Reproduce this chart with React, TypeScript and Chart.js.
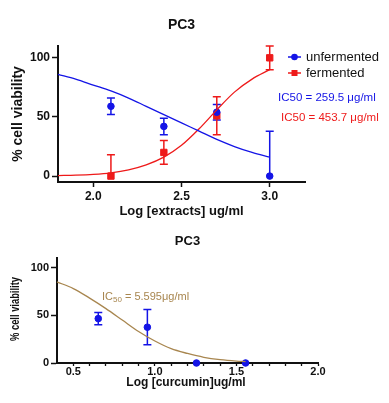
import React, { useEffect, useRef } from 'react';
import Chart from 'chart.js/auto';

const FONT = "'Liberation Sans', Arial, Helvetica, sans-serif";
const BLUE = '#1414e6';
const RED = '#ee1a1a';
const TAN = '#a8864f';

// ---------- Top chart data ----------
const topTitle = 'PC3';
const topXTitle = 'Log [extracts] ug/ml';
const topYTitle = '% cell viability';
const topXTicks = [2.0, 2.5, 3.0];
const topYTicks = [0, 50, 100];
const doseX = [2.1, 2.4, 2.7, 3.0];
const unfermentedY = [59, 42, 54, 0];
const unfermentedErrLow = [7, 7, 6.5, 0];
const unfermentedErrHigh = [7, 7, 6.5, 38];
const fermentedY = [0, 20, 51, 100];
const fermentedErrLow = [0, 10, 16, 10];
const fermentedErrHigh = [18, 10, 16, 10];
const fitX = [1.8, 1.9, 2.0, 2.1, 2.2, 2.3, 2.4, 2.5, 2.6, 2.7, 2.8, 2.9, 3.0];
const unfermentedFit = [86, 82, 77, 72, 66, 59, 52, 45, 38, 31, 25, 20, 16];
const fermentedFit = [0.4, 0.8, 1.5, 2.8, 5.3, 9.5, 16, 26, 40, 56, 71, 82, 90];
const legendLabels = ['unfermented', 'fermented'];
const ic50Labels = ['IC50 = 259.5 \u03bcg/ml', 'IC50 = 453.7 \u03bcg/ml'];

// ---------- Bottom chart data ----------
const botTitle = 'PC3';
const botXTitle = 'Log [curcumin]ug/ml';
const botYTitle = '% cell viability';
const botXTicks = [0.5, 0.6, 0.7, 0.8, 0.9, 1.0, 1.1, 1.2, 1.3, 1.4, 1.5, 1.6, 1.7, 1.8, 1.9, 2.0];
const botXLabelTicks = [0.5, 1.0, 1.5, 2.0];
const botYTicks = [0, 50, 100];
const curcuminX = [0.653, 0.954, 1.255, 1.556];
const curcuminY = [46.5, 37.5, 0, 0];
const curcuminErr = [6.5, 18.5, 0, 0];
const curcuminFitX = [0.4, 0.5, 0.6, 0.7, 0.8, 0.9, 1.0, 1.1, 1.2, 1.3, 1.4, 1.5, 1.556];
const curcuminFit = [85, 78, 68, 57, 45, 33, 23, 15, 10, 6, 3.5, 2, 1.5];
const curcuminIC50 = { pre: 'IC', sub: '50', post: ' = 5.595\u03bcg/ml' };

type Bar = { ds: number; low: number[]; high: number[]; color: string };

const errorBarPlugin = (bars: Bar[]) => ({
  id: 'errbars',
  beforeDatasetsDraw(chart: any) {
    const ctx = chart.ctx;
    const ys = chart.scales.y;
    bars.forEach((b) => {
      const meta = chart.getDatasetMeta(b.ds);
      const data = chart.data.datasets[b.ds].data as any[];
      ctx.save();
      ctx.strokeStyle = b.color;
      ctx.lineWidth = 1.5;
      meta.data.forEach((el: any, i: number) => {
        const v = data[i].y;
        const hi = b.high[i];
        const lo = b.low[i];
        if (!hi && !lo) return;
        const x = el.x;
        const yt = ys.getPixelForValue(v + hi);
        const yb = ys.getPixelForValue(v - lo);
        ctx.beginPath();
        ctx.moveTo(x, yt);
        ctx.lineTo(x, yb);
        if (hi) { ctx.moveTo(x - 4, yt); ctx.lineTo(x + 4, yt); }
        if (lo) { ctx.moveTo(x - 4, yb); ctx.lineTo(x + 4, yb); }
        ctx.stroke();
      });
      ctx.restore();
    });
  },
});

const textPlugin = (draw: (chart: any, ctx: CanvasRenderingContext2D) => void) => ({
  id: 'texts',
  afterDraw(chart: any) {
    const ctx = chart.ctx;
    ctx.save();
    draw(chart, ctx);
    ctx.restore();
  },
});

function axisTitles(ctx: CanvasRenderingContext2D, chart: any, title: string, xt: string, yt: string, o: any) {
  const a = chart.chartArea;
  const cx = (a.left + a.right) / 2;
  ctx.fillStyle = '#111';
  ctx.textAlign = 'center';
  ctx.textBaseline = 'middle';
  ctx.font = `bold ${o.titleSize}px ${FONT}`;
  ctx.fillText(title, cx, o.titleY);
  ctx.font = `bold ${o.xSize}px ${FONT}`;
  ctx.fillText(xt, o.xTitleX ?? cx, o.xTitleY);
  ctx.save();
  ctx.translate(o.yTitleX, o.yTitleY ?? (a.top + a.bottom) / 2);
  ctx.rotate(-Math.PI / 2);
  ctx.font = o.yFont;
  if (o.yLen) {
    const w = ctx.measureText(yt).width;
    ctx.scale(o.yLen / w, 1);
  }
  ctx.fillText(yt, 0, 0);
  ctx.restore();
}

const fixSize = (w?: number, h?: number) => (scale: any) => {
  if (w !== undefined) scale.width = w;
  if (h !== undefined) scale.height = h;
};

function TopChart() {
  const ref = useRef<HTMLCanvasElement>(null);
  useEffect(() => {
    const chart = new Chart(ref.current!, {
      type: 'scatter',
      data: {
        datasets: [
          {
            type: 'line',
            data: fitX.map((x, i) => ({ x, y: unfermentedFit[i] })),
            borderColor: BLUE, borderWidth: 1.3, pointRadius: 0, cubicInterpolationMode: 'monotone', fill: false, clip: false,
          },
          {
            type: 'line',
            data: fitX.map((x, i) => ({ x, y: fermentedFit[i] })),
            borderColor: RED, borderWidth: 1.3, pointRadius: 0, cubicInterpolationMode: 'monotone', fill: false, clip: false,
          },
          {
            data: doseX.map((x, i) => ({ x, y: unfermentedY[i] })),
            backgroundColor: BLUE, borderColor: BLUE, pointRadius: 3.3, pointStyle: 'circle', clip: false,
          },
          {
            data: doseX.map((x, i) => ({ x, y: fermentedY[i] })),
            backgroundColor: RED, borderColor: RED, pointRadius: 4.5, pointStyle: 'rect', clip: false,
          },
        ],
      },
      options: {
        animation: false,
        responsive: false,
        events: [],
        layout: { padding: { left: 0, right: 84, top: 46, bottom: 0 } },
        plugins: { legend: { display: false }, title: { display: false }, tooltip: { enabled: false } },
        scales: {
          x: {
            type: 'linear', min: 1.8, max: 3.2,
            afterFit: fixSize(undefined, 40),
            afterBuildTicks: (s: any) => { s.ticks = topXTicks.map((v) => ({ value: v })); },
            ticks: { callback: (v: any) => Number(v).toFixed(1), color: '#111', font: { family: FONT, size: 12, weight: 'bold' }, padding: 2, maxRotation: 0 },
            grid: { drawOnChartArea: false, drawTicks: true, tickLength: 5, tickColor: '#111', tickWidth: 1.5 },
            border: { color: '#111', width: 2 },
          },
          y: {
            type: 'linear', min: -5, max: 110,
            afterFit: fixSize(58),
            afterBuildTicks: (s: any) => { s.ticks = topYTicks.map((v) => ({ value: v })); },
            ticks: { color: '#111', font: { family: FONT, size: 12, weight: 'bold' }, padding: 2 },
            grid: { drawOnChartArea: false, drawTicks: true, tickLength: 6, tickColor: '#111', tickWidth: 1.5 },
            border: { color: '#111', width: 2 },
          },
        },
      },
      plugins: [
        errorBarPlugin([
          { ds: 2, low: unfermentedErrLow, high: unfermentedErrHigh, color: BLUE },
          { ds: 3, low: fermentedErrLow, high: fermentedErrHigh, color: RED },
        ]),
        textPlugin((c, ctx) => {
          axisTitles(ctx, c, topTitle, topXTitle, topYTitle, {
            titleSize: 14, titleY: 25, xSize: 13, xTitleY: 211, yTitleX: 18,
            yFont: `bold 14px ${FONT}`,
          });
          const items = [
            { label: legendLabels[0], color: BLUE, y: 57, shape: 'circle' },
            { label: legendLabels[1], color: RED, y: 73, shape: 'rect' },
          ];
          items.forEach((it) => {
            ctx.strokeStyle = it.color;
            ctx.fillStyle = it.color;
            ctx.lineWidth = 1.5;
            ctx.beginPath();
            ctx.moveTo(288, it.y);
            ctx.lineTo(301, it.y);
            ctx.stroke();
            if (it.shape === 'circle') {
              ctx.beginPath();
              ctx.arc(294.5, it.y, 3.3, 0, Math.PI * 2);
              ctx.fill();
            } else {
              ctx.fillRect(291.5, it.y - 3, 6, 6);
            }
            ctx.fillStyle = '#111';
            ctx.textAlign = 'left';
            ctx.textBaseline = 'middle';
            ctx.font = `13px ${FONT}`;
            ctx.fillText(it.label, 306, it.y);
          });
          ctx.font = `11.5px ${FONT}`;
          ctx.textAlign = 'left';
          ctx.fillStyle = BLUE;
          ctx.fillText(ic50Labels[0], 278, 98);
          ctx.fillStyle = RED;
          ctx.fillText(ic50Labels[1], 281, 118);
        }),
      ],
    } as any);
    return () => chart.destroy();
  }, []);
  return <canvas ref={ref} width={389} height={222} style={{ display: 'block', width: 389, height: 222 }} />;
}

function BottomChart() {
  const ref = useRef<HTMLCanvasElement>(null);
  useEffect(() => {
    const chart = new Chart(ref.current!, {
      type: 'scatter',
      data: {
        datasets: [
          {
            type: 'line',
            data: curcuminFitX.map((x, i) => ({ x, y: curcuminFit[i] })),
            borderColor: TAN, borderWidth: 1.3, pointRadius: 0, cubicInterpolationMode: 'monotone', fill: false, clip: false,
          },
          {
            data: curcuminX.map((x, i) => ({ x, y: curcuminY[i] })),
            backgroundColor: BLUE, borderColor: BLUE, pointRadius: 3.3, pointStyle: 'circle', clip: false,
          },
        ],
      },
      options: {
        animation: false,
        responsive: false,
        events: [],
        layout: { padding: { left: 0, right: 71, top: 36, bottom: 0 } },
        plugins: { legend: { display: false }, title: { display: false }, tooltip: { enabled: false } },
        scales: {
          x: {
            type: 'linear', min: 0.4, max: 2.0,
            afterFit: fixSize(undefined, 40),
            afterBuildTicks: (s: any) => { s.ticks = botXTicks.map((v) => ({ value: v })); },
            ticks: {
              autoSkip: false, maxRotation: 0,
              callback: (v: any) => (botXLabelTicks.some((t) => Math.abs(t - Number(v)) < 1e-6) ? Number(v).toFixed(1) : ''),
              color: '#111', font: { family: FONT, size: 11, weight: 'bold' }, padding: -1,
            },
            grid: { drawOnChartArea: false, drawTicks: true, tickLength: 3, tickColor: '#111', tickWidth: 1.3 },
            border: { color: '#111', width: 2 },
          },
          y: {
            type: 'linear', min: 0, max: 110,
            afterFit: fixSize(57),
            afterBuildTicks: (s: any) => { s.ticks = botYTicks.map((v) => ({ value: v })); },
            ticks: { color: '#111', font: { family: FONT, size: 11, weight: 'bold' }, padding: 2 },
            grid: { drawOnChartArea: false, drawTicks: true, tickLength: 6, tickColor: '#111', tickWidth: 1.5 },
            border: { color: '#111', width: 2 },
          },
        },
      },
      plugins: [
        errorBarPlugin([{ ds: 1, low: curcuminErr, high: curcuminErr, color: BLUE }]),
        textPlugin((c, ctx) => {
          axisTitles(ctx, c, botTitle, botXTitle, botYTitle, {
            titleSize: 13, titleY: 19, xSize: 12, xTitleY: 161, xTitleX: 186, yTitleX: 16, yTitleY: 87,
            yFont: `bold 12px ${FONT}`, yLen: 64,
          });
          ctx.fillStyle = TAN;
          ctx.textAlign = 'left';
          ctx.textBaseline = 'middle';
          let x = 102;
          const y = 75;
          ctx.font = `11px ${FONT}`;
          ctx.fillText(curcuminIC50.pre, x, y);
          x += ctx.measureText(curcuminIC50.pre).width;
          ctx.font = `8px ${FONT}`;
          ctx.fillText(curcuminIC50.sub, x, y + 2.5);
          x += ctx.measureText(curcuminIC50.sub).width;
          ctx.font = `11px ${FONT}`;
          ctx.fillText(curcuminIC50.post, x, y);
        }),
      ],
    } as any);
    return () => chart.destroy();
  }, []);
  return <canvas ref={ref} width={389} height={181} style={{ display: 'block', width: 389, height: 181 }} />;
}

export default function App() {
  return (
    <div style={{ position: 'absolute', left: 0, top: 0, width: 389, height: 403, background: '#fff' }}>
      <TopChart />
      <BottomChart />
    </div>
  );
}
